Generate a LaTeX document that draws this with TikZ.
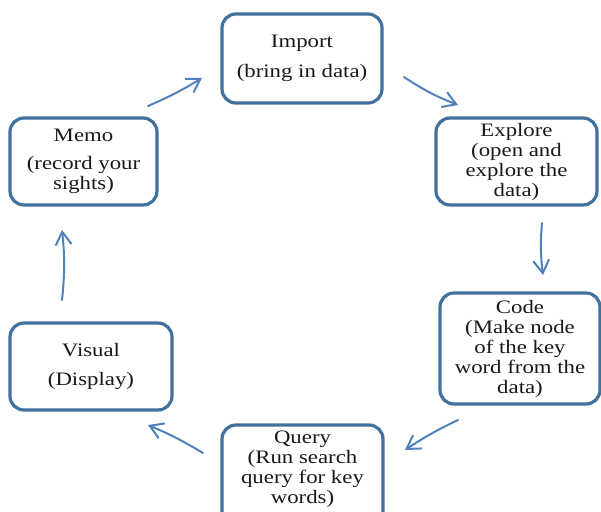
\documentclass[tikz,border=0pt]{standalone}
\usepackage{fontspec}
\setmainfont{Liberation Serif}[FakeStretch=1.2]
\usetikzlibrary{arrows.meta}
\definecolor{boxblue}{HTML}{41719C}
\definecolor{arrowblue}{HTML}{4F81BD}
\begin{document}
\begin{tikzpicture}[x=1pt,y=-1pt,
  stage/.style={draw=boxblue, line width=3.2pt, rounded corners=14pt, fill=white,
    inner sep=0pt, align=center, text=black!90,
    font=\fontsize{19}{20}\selectfont},
  flow/.style={draw=arrowblue, line width=2pt, line cap=round,
    -{Straight Barb[length=13pt,width=16pt,line width=2pt]}}]
\useasboundingbox (0,0) rectangle (601,511);

% stages of the cycle
\node[stage, minimum width=160pt, minimum height=89pt] (import) at (302,58.5)
  {Import\\[10pt](bring in data)};
\node[stage, minimum width=161pt, minimum height=87pt] (explore) at (516.5,161.5)
  {Explore\\(open and\\explore the\\data)};
\node[stage, minimum width=160pt, minimum height=111pt] (code) at (520,348.5)
  {Code\\(Make node\\of the key\\word from the\\data)};
\node[stage, minimum width=161pt, minimum height=110pt] (query) at (302.5,480)
  {};
\node[align=center, text=black!90, font=\fontsize{19}{20}\selectfont] (querytext) at (302.5,469)
  {Query\\(Run search\\query for key\\words)};
\node[stage, minimum width=147pt, minimum height=87pt] (memo) at (83.5,161.5)
  {Memo\\[8pt](record your\\sights)};
\node[stage, minimum width=162pt, minimum height=87pt] (visual) at (91,366.5)
  {Visual\\[9pt](Display)};

% arrow ends between the stages
\coordinate (a1s) at (404,77);  \coordinate (a1e) at (458,105);
\coordinate (a2s) at (542,223); \coordinate (a2e) at (543,275);
\coordinate (a3s) at (458,420); \coordinate (a3e) at (405,450);
\coordinate (a4s) at (203,453); \coordinate (a4e) at (148,425);
\coordinate (a5s) at (62,300);  \coordinate (a5e) at (62,230);
\coordinate (a6s) at (148,106); \coordinate (a6e) at (202,78);

\draw[flow] (a1s) to[bend right=6] (a1e);
\draw[flow] (a2s) to[bend right=6] (a2e);
\draw[flow] (a3s) to[bend right=4] (a3e);
\draw[flow] (a4s) to[bend right=4] (a4e);
\draw[flow] (a5s) to[bend right=6] (a5e);
\draw[flow] (a6s) to[bend right=4] (a6e);
\end{tikzpicture}
\end{document}
